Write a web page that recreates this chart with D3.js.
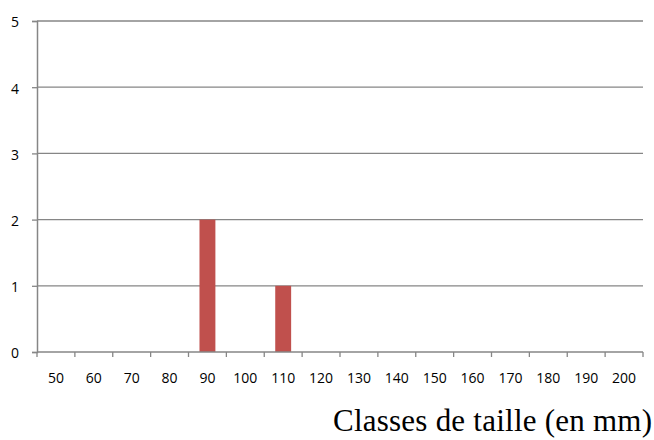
<!DOCTYPE html>
<html>
<head>
<meta charset="utf-8">
<script src="https://cdn.jsdelivr.net/npm/d3@7"></script>
<style>
  html, body { margin: 0; padding: 0; background: #fff; }
  svg { display: block; }
</style>
</head>
<body>
<svg id="chart" width="654" height="440"></svg>
<script>
// Size classes (mm) and number of individuals per class
const categories = ["50", "60", "70", "80", "90", "100", "110", "120", "130", "140", "150", "160", "170", "180", "190", "200"];
const counts     = [0, 0, 0, 0, 2, 0, 1, 0, 0, 0, 0, 0, 0, 0, 0, 0];
const yTicks     = [0, 1, 2, 3, 4, 5];
const xTitle     = "Classes de taille (en mm)";

const svg = d3.select("#chart");
const margin = { left: 37, right: 11, top: 21, bottom: 88 };
const W = 654, H = 440;

const x = d3.scaleBand()
  .domain(categories)
  .range([margin.left, W - margin.right])
  .padding(0);

const y = d3.scaleLinear()
  .domain([0, 5])
  .range([H - margin.bottom, margin.top]);

const axisColor = "#868686";
const labelFont = "'Open Sans', 'DejaVu Sans', sans-serif";

// Horizontal gridlines
svg.append("g")
  .selectAll("line")
  .data(yTicks.filter(d => d > 0))
  .join("line")
  .attr("x1", margin.left)
  .attr("x2", W - margin.right)
  .attr("y1", d => y(d))
  .attr("y2", d => y(d))
  .attr("stroke", axisColor)
  .attr("stroke-width", 1.3);

// Bars
const barW = x.bandwidth() * 0.42;
svg.append("g")
  .selectAll("rect")
  .data(categories.map((c, i) => ({ c, v: counts[i] })).filter(d => d.v > 0))
  .join("rect")
  .attr("x", d => x(d.c) + (x.bandwidth() - barW) / 2)
  .attr("y", d => y(d.v))
  .attr("width", barW)
  .attr("height", d => y(0) - y(d.v))
  .attr("fill", "#C0504D");

// Y axis
const yAxis = svg.append("g")
  .attr("transform", `translate(${margin.left},0)`)
  .call(d3.axisLeft(y).tickValues(yTicks).tickFormat(d3.format("d")).tickSize(5).tickPadding(13));
yAxis.select(".domain").attr("stroke", axisColor).attr("stroke-width", 1.5);
yAxis.selectAll(".tick line").attr("stroke", axisColor).attr("stroke-width", 1.3);
yAxis.selectAll(".tick text")
  .attr("font-family", labelFont)
  .attr("font-size", 14)
  .attr("fill", "#000")
  .attr("dy", "0.42em");

// X axis: ticks on class boundaries, labels centred in each class
const xAxisG = svg.append("g").attr("transform", `translate(0,${y(0)})`);
xAxisG.append("line")
  .attr("x1", margin.left)
  .attr("x2", W - margin.right)
  .attr("stroke", axisColor)
  .attr("stroke-width", 1.5);
const boundaries = categories.map(c => x(c)).concat([x.range()[1]]);
xAxisG.selectAll("line.tk")
  .data(boundaries)
  .join("line")
  .attr("class", "tk")
  .attr("x1", d => d).attr("x2", d => d)
  .attr("y1", 0).attr("y2", 5)
  .attr("stroke", axisColor)
  .attr("stroke-width", 1.3);
xAxisG.selectAll("text")
  .data(categories)
  .join("text")
  .attr("x", d => x(d) + x.bandwidth() / 2)
  .attr("y", 31)
  .attr("text-anchor", "middle")
  .attr("font-family", labelFont)
  .attr("font-size", 14)
  .attr("fill", "#000")
  .text(d => d);

// X axis title
svg.append("text")
  .attr("x", 333)
  .attr("y", 431)
  .attr("textLength", 319)
  .attr("lengthAdjust", "spacing")
  .attr("font-family", "'Liberation Serif', 'Times New Roman', serif")
  .attr("font-size", 31)
  .attr("fill", "#000")
  .text(xTitle);
</script>
</body>
</html>
